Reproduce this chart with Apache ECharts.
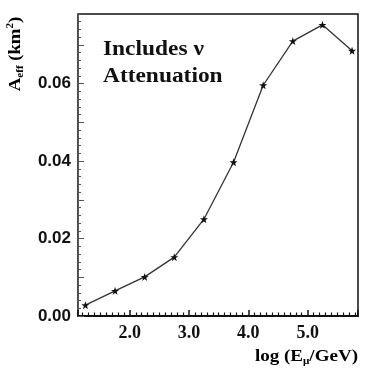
<!DOCTYPE html>
<html><head><meta charset="utf-8">
<script src="https://cdn.jsdelivr.net/npm/echarts@6/dist/echarts.min.js"></script>
<style>html,body{margin:0;padding:0;background:#fff}#c{width:374px;height:374px}</style>
</head><body><div id="c"></div>
<script>
const logE = [1.25, 1.75, 2.25, 2.75, 3.25, 3.75, 4.25, 4.75, 5.25, 5.75];
const aEff = [0.0028, 0.0065, 0.0101, 0.0152, 0.0250, 0.0397, 0.0596, 0.0710, 0.0752, 0.0685];
const xLabels = ['2.0', '3.0', '4.0', '5.0'];
const yLabels = ['0.00', '0.02', '0.04', '0.06'];

const chart = echarts.init(document.getElementById('c'));
const serif = 'Liberation Serif';
const sans = 'Liberation Sans';
const starPath = 'path://M0,-10 L2.4,-3.1 9.5,-3.1 3.8,1.2 5.9,8.1 0,4 -5.9,8.1 -3.8,1.2 -9.5,-3.1 -2.4,-3.1Z';

chart.setOption({
  animation: false,
  grid: {left: 78, right: 16, top: 14, bottom: 58, show: true, borderColor: '#111', borderWidth: 1.5},
  xAxis: {
    type: 'value', min: 1.125, max: 5.85,
    axisLine: {show: true, lineStyle: {color: '#111', width: 2}},
    axisTick: {show: true, inside: true, length: 6, lineStyle: {color: '#111', width: 1.5}},
    minorTick: {show: true, splitNumber: 10, length: 3.5, lineStyle: {color: '#111', width: 1.2}},
    splitLine: {show: false},
    axisLabel: {
      color: '#111', fontFamily: serif, fontWeight: 'bold', fontSize: 18, margin: 8,
      formatter: v => { const s = v.toFixed(1); return xLabels.includes(s) ? s : ''; }
    }
  },
  yAxis: {
    type: 'value', min: 0, max: 0.078, interval: 0.01,
    axisLine: {show: true},
    axisTick: {show: true, inside: true, length: 6},
    minorTick: {show: true, length: 3},
    splitLine: {show: false},
    axisLabel: {
      color: '#111', fontFamily: sans, fontWeight: 'bold', fontSize: 17, margin: 7,
      formatter: v => { const s = v.toFixed(2); return yLabels.includes(s) ? s : ''; }
    }
  },
  series: [{
    type: 'line',
    data: logE.map((x, i) => [x, aEff[i]]),
    symbol: starPath, symbolSize: 8,
    itemStyle: {color: '#111'},
    lineStyle: {color: '#333', width: 1.3},
    z: 3
  }],
  graphic: [
    {type: 'text', left: 103, top: 40, scaleX: 1.17, style: {text: 'Includes \u03bd', font: 'bold 20px "Liberation Serif"', fill: '#111'}},
    {type: 'text', left: 103, top: 67, scaleX: 1.17, style: {text: 'Attenuation', font: 'bold 20px "Liberation Serif"', fill: '#111'}},
    {type: 'text', x: 16, y: 54, rotation: Math.PI / 2, scaleX: 1.1,
      style: {text: '{m|A}{s|eff}{m| (km}{p|2}{m|)}', align: 'center', verticalAlign: 'middle',
        rich: {m: {fontFamily: serif, fontWeight: 'bold', fontSize: 17, color: '#111'},
               s: {fontFamily: serif, fontWeight: 'bold', fontSize: 10, color: '#111', padding: [9, 0, 0, 0]},
               p: {fontFamily: serif, fontWeight: 'bold', fontSize: 10, color: '#111', padding: [0, 0, 11, 0]}}}},
    {type: 'text', x: 358, y: 357, scaleX: 1.12, originX: 0, originY: 0,
      style: {text: '{m|log (E}{s|\u03bc}{m|/GeV)}', align: 'right', verticalAlign: 'middle',
        rich: {m: {fontFamily: serif, fontWeight: 'bold', fontSize: 17, color: '#111'},
               s: {fontFamily: serif, fontWeight: 'bold', fontSize: 10, color: '#111', padding: [8, 0, 0, 0]}}}}
  ]
});
</script>
</body></html>
